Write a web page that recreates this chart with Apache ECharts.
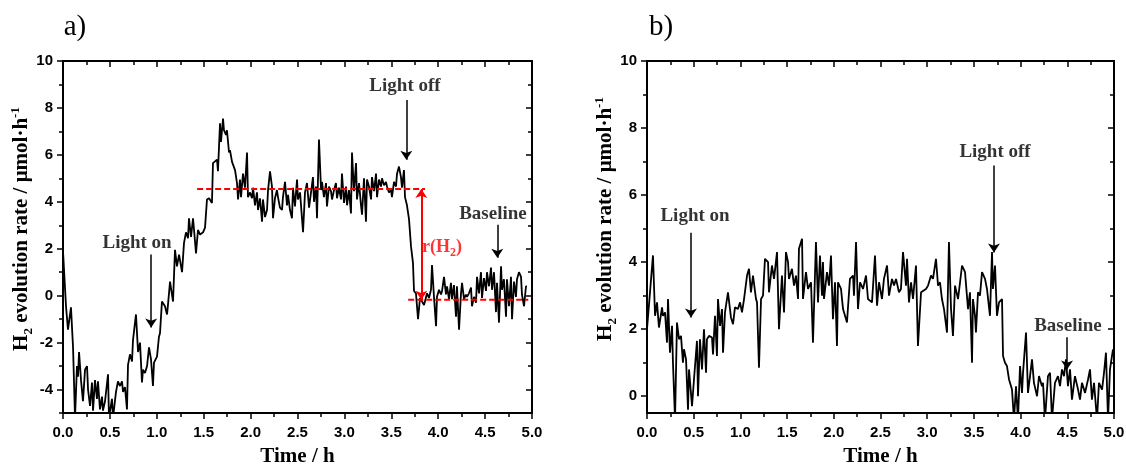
<!DOCTYPE html>
<html><head><meta charset="utf-8">
<script src="https://cdn.jsdelivr.net/npm/echarts@6/dist/echarts.min.js"></script>
<style>html,body{margin:0;padding:0;background:#fff}#c{width:1126px;height:465px}</style>
</head><body><div id="c"></div>
<script>
// ---------- Panel a data ----------
const timeA = [
 0,0.032,0.053,0.085,0.107,0.128,0.149,0.160,0.171,0.192,
 0.213,0.235,0.256,0.267,0.288,0.309,0.320,0.341,0.362,0.373,
 0.394,0.416,0.426,0.448,0.480,0.490,0.522,0.533,0.565,0.586,
 0.608,0.629,0.640,0.661,0.682,0.693,0.714,0.736,0.746,0.778,
 0.800,0.821,0.842,0.853,0.874,0.896,0.917,0.938,0.959,0.970,
 1.002,1.023,1.034,1.055,1.087,1.109,1.119,1.141,1.173,1.194,
 1.215,1.237,1.269,1.290,1.311,1.333,1.343,1.365,1.386,1.397,
 1.418,1.439,1.461,1.493,1.514,1.535,1.557,1.588,1.599,1.620,
 1.642,1.652,1.674,1.684,1.706,1.716,1.738,1.748,1.770,1.780,
 1.802,1.812,1.834,1.855,1.866,1.887,1.898,1.919,1.940,1.962,
 1.972,1.994,2.015,2.026,2.047,2.068,2.079,2.100,2.122,2.132,
 2.154,2.175,2.186,2.207,2.228,2.239,2.260,2.281,2.292,2.313,
 2.335,2.345,2.367,2.388,2.399,2.420,2.441,2.452,2.473,2.495,
 2.505,2.527,2.559,2.580,2.601,2.623,2.644,2.665,2.676,2.697,
 2.708,2.729,2.751,2.761,2.782,2.804,2.814,2.836,2.857,2.868,
 2.889,2.910,2.921,2.942,2.964,2.974,2.996,3.017,3.028,3.049,
 3.070,3.081,3.102,3.124,3.134,3.156,3.177,3.188,3.209,3.230,
 3.241,3.262,3.284,3.294,3.316,3.337,3.348,3.369,3.390,3.401,
 3.422,3.443,3.454,3.475,3.497,3.507,3.529,3.550,3.561,3.582,
 3.603,3.614,3.635,3.646,3.667,3.689,3.710,3.731,3.742,3.763,
 3.774,3.785,3.806,3.827,3.849,3.870,3.881,3.902,3.923,3.934,
 3.955,3.977,3.987,4.009,4.030,4.041,4.062,4.083,4.094,4.115,
 4.136,4.147,4.168,4.190,4.200,4.222,4.243,4.254,4.275,4.296,
 4.307,4.328,4.350,4.360,4.382,4.403,4.414,4.435,4.456,4.467,
 4.488,4.510,4.520,4.542,4.563,4.574,4.595,4.616,4.627,4.648,
 4.670,4.680,4.701,4.723,4.733,4.755,4.776,4.787,4.808,4.829,
 4.840,4.861,4.883,4.893,4.915,4.936,4.947
];
const rateA = [
 1.9,-0.45,-1.45,-0.5,-2.2,-5.2,-3.0,-3.45,-2.4,-3.6,
 -4.5,-3.15,-3.0,-4.0,-4.7,-3.7,-4.9,-3.6,-4.4,-3.65,
 -4.85,-4.3,-4.9,-4.5,-3.35,-5.2,-4.4,-5.2,-4.1,-3.65,
 -3.85,-3.65,-4.1,-3.9,-4.85,-2.95,-2.5,-2.8,-1.9,-0.8,
 -2.4,-2.0,-3.7,-3.15,-3.3,-3.0,-2.2,-2.7,-3.85,-2.85,
 -2.6,-1.75,-1.6,-0.25,-0.45,-0.8,-0.4,0.6,-0.25,1.95,
 1.25,1.75,1.0,2.25,2.7,2.45,3.3,2.5,3.3,2.8,
 1.8,2.8,2.6,2.7,2.9,4.1,4.15,3.95,5.65,5.65,
 5.8,5.3,7.35,6.55,7.55,7.05,6.85,7.05,6.1,6.2,
 5.7,5.65,5.35,4.8,4.1,4.95,4.2,5.2,4.6,6.1,
 4.2,4.4,4.15,4.6,3.85,4.4,3.65,4.15,3.15,4.1,
 3.35,3.65,4.5,5.3,4.65,3.3,4.15,4.5,4.2,3.75,
 3.65,4.2,4.85,3.85,4.3,3.65,3.3,4.6,3.8,4.95,
 4.1,4.4,2.7,4.4,4.8,3.75,4.4,5.05,4.0,4.65,
 3.3,6.65,4.5,4.85,4.2,4.8,3.8,4.65,4.45,4.1,
 4.5,4.8,4.15,4.6,4.1,5.2,3.95,4.65,3.85,4.5,
 3.5,6.1,4.45,5.65,4.1,4.8,3.85,3.45,5.0,3.15,
 4.95,4.65,4.1,5.05,4.45,5.2,4.2,4.95,4.65,5.0,
 4.7,4.85,4.65,4.4,4.5,4.2,4.85,4.65,5.2,5.5,
 5.05,4.6,5.35,4.2,3.85,3.25,2.1,1.4,0.2,0.1,
 0.05,-1.0,-0.1,-0.15,-0.4,-0.4,0.1,-0.1,0.25,1.3,
 -0.05,-1.3,-0.05,0.25,0.05,0.2,0.8,0.05,0.4,-0.15,
 0.55,-0.15,0.45,-0.9,0.4,-1.45,0.1,0.55,-0.15,0.05,
 -0.05,0.1,0.35,-0.45,-0.05,-0.3,0.8,0.1,1.0,-0.1,
 0.75,0.2,1.0,0.4,1.2,0.25,1.0,-0.7,0.55,-1.15,
 1.25,0.25,0.7,-0.9,0.7,-0.45,0.8,-1.0,0.6,-0.05,
 0.7,1.0,0.8,0.05,-0.45,0.4,0.4
];
// ---------- Panel b data ----------
const timeB = [
 0.000,0.032,0.064,0.086,0.107,0.128,0.161,0.171,0.193,0.214,
 0.225,0.246,0.268,0.278,0.300,0.321,0.343,0.364,0.385,0.396,
 0.418,0.439,0.450,0.482,0.503,0.535,0.546,0.567,0.589,0.610,
 0.632,0.642,0.664,0.696,0.707,0.728,0.749,0.760,0.782,0.803,
 0.814,0.835,0.867,0.899,0.921,0.942,0.974,0.996,1.017,1.039,
 1.071,1.092,1.113,1.135,1.167,1.178,1.199,1.221,1.242,1.263,
 1.296,1.306,1.338,1.360,1.392,1.413,1.445,1.467,1.488,1.510,
 1.520,1.552,1.574,1.595,1.617,1.627,1.660,1.670,1.702,1.724,
 1.756,1.777,1.809,1.831,1.852,1.874,1.884,1.895,1.927,1.949,
 1.970,1.991,2.013,2.034,2.045,2.077,2.099,2.141,2.173,2.206,
 2.216,2.238,2.259,2.281,2.313,2.345,2.366,2.409,2.441,2.463,
 2.484,2.516,2.537,2.570,2.591,2.623,2.645,2.666,2.698,2.719,
 2.741,2.773,2.784,2.805,2.827,2.848,2.880,2.901,2.934,2.955,
 2.987,3.009,3.041,3.062,3.094,3.116,3.137,3.158,3.180,3.212,
 3.233,3.255,3.276,3.298,3.330,3.373,3.405,3.437,3.458,3.480,
 3.490,3.512,3.522,3.544,3.565,3.587,3.619,3.640,3.672,3.694,
 3.704,3.726,3.747,3.769,3.801,3.812,3.833,3.854,3.876,3.908,
 3.929,3.951,3.972,3.994,4.015,4.026,4.058,4.079,4.101,4.122,
 4.143,4.176,4.197,4.229,4.240,4.261,4.293,4.315,4.336,4.368,
 4.400,4.422,4.443,4.465,4.486,4.507,4.529,4.550,4.582,4.615,
 4.636,4.657,4.690,4.722,4.743,4.764,4.786,4.818,4.839,4.872,
 4.893,4.914,4.936,4.957,4.989
];
const rateB = [
 2.0,3.1,4.2,2.4,2.8,2.05,2.65,2.4,2.5,1.6,
 2.9,1.3,2.1,1.0,-0.7,2.2,1.7,1.8,1.0,1.4,
 1.1,-0.4,0.8,-0.3,0.5,1.65,0.0,1.7,0.8,2.0,
 0.7,1.7,1.8,1.75,1.25,2.4,1.2,2.9,2.1,2.6,
 1.3,2.5,3.1,2.35,2.15,2.65,2.6,2.8,2.5,2.9,
 3.6,3.8,3.1,3.6,2.9,2.8,0.85,2.9,3.0,4.1,
 4.0,3.1,3.9,3.5,4.3,2.0,3.6,2.5,4.3,4.0,
 3.5,3.8,3.3,3.6,2.9,4.4,4.7,2.9,3.7,3.2,
 3.4,1.6,4.6,2.8,4.2,3.0,4.0,2.9,3.7,3.3,
 4.2,2.3,3.4,1.5,3.4,3.2,2.6,2.2,3.5,3.6,
 3.0,4.6,2.6,3.4,3.2,3.6,2.9,2.8,4.2,2.7,
 3.4,2.9,3.5,3.9,3.0,3.5,3.3,3.5,3.1,3.2,
 4.3,3.3,4.1,2.8,3.4,2.9,3.9,1.5,3.1,3.1,
 3.2,3.3,3.6,3.5,4.1,3.3,3.4,2.9,2.6,1.9,
 4.6,2.6,1.8,3.3,2.9,3.9,3.7,2.6,3.1,1.0,
 2.9,2.4,1.9,3.1,3.0,3.7,3.5,3.2,2.4,4.3,
 3.2,3.9,2.4,2.8,2.9,1.2,1.0,0.9,0.5,0.2,
 -0.7,0.3,-0.7,0.9,0.1,0.7,1.9,0.1,0.6,1.1,
 0.4,0.0,0.6,0.3,0.4,-0.7,0.6,0.7,-0.7,0.4,
 0.6,0.3,0.8,0.6,1.1,0.3,0.8,-0.1,0.6,0.2,
 -0.1,0.4,0.1,0.5,0.8,-0.1,0.4,-0.7,0.4,0.2,
 0.7,1.3,-0.7,0.8,1.4
];
// ---------- axes ----------
const xTicks = [0, 5, 0.5];              // min, max, interval
const yRangeA = [-5, 10];
const yMajorA = [-4,-2,0,2,4,6,8,10];
const yMinorA = [-5,-3,-1,1,3,5,7,9];
const yRangeB = [-0.5, 10];
const yMajorB = [0,2,4,6,8,10];
const yMinorB = [1,3,5,7,9];
// ---------- annotations ----------
const rH2Level = 4.55, baseLevelA = -0.17;
const rH2Span = [1.43, 3.86], baseSpanA = [3.68, 4.96];
const rArrowTime = 3.82;
const labelsA = ['Light on','Light off','Baseline'];
const labelPosA = [[0.79,2.26],[3.646,8.94],[4.584,3.49]];
const arrowsA = [[0.94,1.75,-1.36],[3.66,8.34,5.79],[4.63,3.02,1.62]];
const rLabelPos = [4.04, 2.04];
const labelsB = ['Light on','Light off','Baseline'];
const labelPosB = [[0.514,5.36],[3.726,7.29],[4.507,2.08]];
const arrowsB = [[0.471,4.88,2.35],[3.715,6.88,4.29],[4.497,1.76,0.80]];

const SANS = 'Liberation Sans, Arial, sans-serif';
const SERIF = 'Liberation Serif, Times New Roman, serif';
const BLACK = '#000';

function xPair(g){
  const common = {type:'value', gridIndex:g, min:xTicks[0], max:xTicks[1], interval:xTicks[2], splitLine:{show:false}};
  return [
    Object.assign({}, common, {position:'bottom',
      axisLine:{onZero:false, lineStyle:{color:BLACK, width:2}},
      axisTick:{inside:false, length:6, lineStyle:{color:BLACK, width:1.5}},
      minorTick:{show:true, splitNumber:2, length:4, lineStyle:{color:BLACK, width:1.5}},
      axisLabel:{color:BLACK, fontFamily:SANS, fontWeight:'bold', fontSize:15, margin:12, formatter:v=>v.toFixed(1)},
      name:'Time / h', nameLocation:'middle', nameGap:33,
      nameTextStyle:{color:BLACK, fontFamily:SERIF, fontWeight:'bold', fontSize:21}}),
    Object.assign({}, common, {position:'top',
      axisLine:{onZero:false, lineStyle:{color:BLACK, width:2}},
      axisTick:{inside:true, length:6, lineStyle:{color:BLACK, width:1.5}},
      minorTick:{show:true, splitNumber:2, length:4, lineStyle:{color:BLACK, width:1.5}},
      axisLabel:{show:false}})
  ];
}
function yQuad(g, range, major, minor){
  const common = {type:'value', gridIndex:g, min:range[0], max:range[1], splitLine:{show:false}};
  return [
    Object.assign({}, common, {position:'left',
      axisLine:{show:true, onZero:false, lineStyle:{color:BLACK, width:2}},
      axisTick:{show:true, inside:false, length:6, customValues:major, lineStyle:{color:BLACK, width:1.5}},
      axisLabel:{show:true, customValues:major, color:BLACK, fontFamily:SANS, fontWeight:'bold', fontSize:15, margin:10}}),
    Object.assign({}, common, {position:'left',
      axisLine:{show:false, onZero:false},
      axisTick:{show:true, inside:false, length:4, customValues:minor, lineStyle:{color:BLACK, width:1.5}},
      axisLabel:{show:false}}),
    Object.assign({}, common, {position:'right',
      axisLine:{show:true, onZero:false, lineStyle:{color:BLACK, width:2}},
      axisTick:{show:true, inside:true, length:6, customValues:major, lineStyle:{color:BLACK, width:1.5}},
      axisLabel:{show:false}}),
    Object.assign({}, common, {position:'right',
      axisLine:{show:false, onZero:false},
      axisTick:{show:true, inside:true, length:4, customValues:minor, lineStyle:{color:BLACK, width:1.5}},
      axisLabel:{show:false}})
  ];
}
const zip = (a,b) => a.map((t,i)=>[t,b[i]]);
function arrowMarkLine(arrows){
  return {silent:true, symbol:['none','arrow'], symbolSize:9, animation:false,
    label:{show:false}, emphasis:{disabled:true},
    lineStyle:{color:BLACK, width:1.5, type:'solid'},
    data: arrows.map(a=>[{coord:[a[0],a[1]]},{coord:[a[0],a[2]]}])};
}
const annLabel = {show:true, position:'inside', color:BLACK, textBorderWidth:0, fontFamily:SERIF, fontWeight:'bold', fontSize:19, formatter:'{b}'};
const yTitleRich = {
  b:{fontFamily:SERIF, fontWeight:'bold', fontSize:21, lineHeight:26, color:BLACK},
  s:{fontFamily:SERIF, fontWeight:'bold', fontSize:13, lineHeight:15, verticalAlign:'bottom', color:BLACK},
  p:{fontFamily:SERIF, fontWeight:'bold', fontSize:13, lineHeight:15, verticalAlign:'top', color:BLACK}
};
const yTitleText = '{b|H}{s|2}{b| evolution rate / μmol·h}{p|-1}';

const option = {
  animation:false,
  backgroundColor:'#fff',
  grid:[
    {left:63, top:61, width:469, height:352, containLabel:false, outerBoundsMode:'none'},
    {left:647, top:61, width:467, height:352, containLabel:false, outerBoundsMode:'none'}
  ],
  xAxis:[...xPair(0), ...xPair(1)],
  yAxis:[...yQuad(0, yRangeA, yMajorA, yMinorA), ...yQuad(1, yRangeB, yMajorB, yMinorB)],
  graphic:[
    {type:'text', x:75, y:27, style:{text:'a)', font:'29px '+SERIF, fill:BLACK, align:'center', verticalAlign:'middle'}},
    {type:'text', x:661, y:27, style:{text:'b)', font:'29px '+SERIF, fill:BLACK, align:'center', verticalAlign:'middle'}},
    {type:'text', x:22, y:229, rotation:Math.PI/2, style:{text:yTitleText, rich:yTitleRich, fill:BLACK, align:'center', verticalAlign:'middle'}},
    {type:'text', x:606, y:219, rotation:Math.PI/2, style:{text:yTitleText, rich:yTitleRich, fill:BLACK, align:'center', verticalAlign:'middle'}}
  ],
  series:[
    {type:'line', xAxisIndex:0, yAxisIndex:0, data:zip(timeA, rateA), showSymbol:false, symbol:'none',
     lineStyle:{color:BLACK, width:1.8}, clip:true, z:3},
    {type:'line', xAxisIndex:0, yAxisIndex:0, data:[[rH2Span[0],rH2Level],[rH2Span[1],rH2Level]], symbol:'none',
     lineStyle:{color:'#ff0000', width:2, type:[6,3]}, z:4,
     markLine:{silent:true, symbol:['arrow','arrow'], symbolSize:9, label:{show:false}, emphasis:{disabled:true},
       lineStyle:{color:'#ff0000', width:2, type:'solid'},
       data:[[{coord:[rArrowTime, baseLevelA]},{coord:[rArrowTime, rH2Level]}]]}},
    {type:'line', xAxisIndex:0, yAxisIndex:0, data:[[baseSpanA[0],baseLevelA],[baseSpanA[1],baseLevelA]], symbol:'none',
     lineStyle:{color:'#ff0000', width:2, type:[6,3]}, z:4},
    {type:'scatter', xAxisIndex:0, yAxisIndex:0, symbolSize:1, itemStyle:{color:'rgba(0,0,0,0)'}, z:5,
     data: labelsA.map((n,i)=>({name:n, value:labelPosA[i]})).concat([{name:'r(H2)', value:rLabelPos,
       label:{formatter:'{r|r(H}{s|2}{r|)}', rich:{
         r:{fontFamily:SERIF, fontWeight:'bold', fontSize:18, lineHeight:22, color:'#ff0000'},
         s:{fontFamily:SERIF, fontWeight:'bold', fontSize:12, lineHeight:13, verticalAlign:'bottom', color:'#ff0000'}}}}]),
     label:annLabel, markLine:arrowMarkLine(arrowsA)},
    {type:'line', xAxisIndex:2, yAxisIndex:4, data:zip(timeB, rateB), showSymbol:false, symbol:'none',
     lineStyle:{color:BLACK, width:1.8}, clip:true, z:3},
    {type:'scatter', xAxisIndex:2, yAxisIndex:4, symbolSize:1, itemStyle:{color:'rgba(0,0,0,0)'}, z:5,
     data: labelsB.map((n,i)=>({name:n, value:labelPosB[i]})),
     label:annLabel, markLine:arrowMarkLine(arrowsB)}
  ]
};
const chart = echarts.init(document.getElementById('c'));
chart.setOption(option);
</script>
</body></html>
